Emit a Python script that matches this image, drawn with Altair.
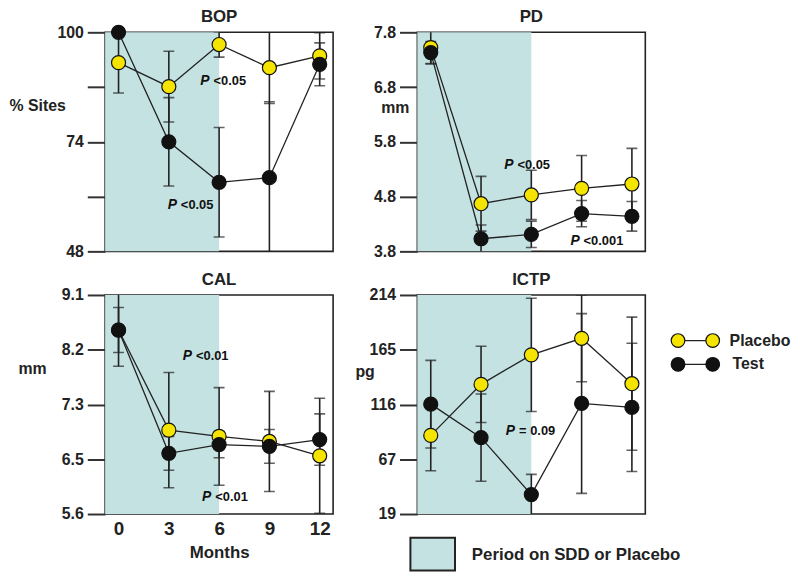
import altair as alt
import pandas as pd

# ---------------- data ----------------
months = [0, 3, 6, 9, 12]
groups = ["Placebo", "Test"]

bop_placebo = [92.8, 87.1, 97.1, 91.6, 94.4]
bop_placebo_err = [7.2, 8.4, 3.0, 8.5, 5.5]
bop_test = [100.0, 74.0, 64.4, 65.5, 92.4]
bop_test_err = [0.0, 10.5, 13.0, 18.0, 5.1]

pd_placebo = [7.52, 4.67, 4.83, 4.95, 5.03]
pd_placebo_err = [0.30, 0.50, 0.45, 0.60, 0.65]
pd_test = [7.43, 4.03, 4.11, 4.49, 4.44]
pd_test_err = [0.20, 0.25, 0.24, 0.24, 0.27]

cal_placebo = [8.54, 6.94, 6.84, 6.76, 6.53]
cal_placebo_err = [0.36, 0.92, 0.78, 0.80, 0.92]
cal_test = [8.54, 6.57, 6.71, 6.68, 6.79]
cal_test_err = [0.58, 0.27, 0.21, 0.27, 0.41]

ictp_placebo = [89.0, 134.4, 160.7, 175.4, 135.0]
ictp_placebo_err = [31.5, 34.0, 50.4, 38.7, 59.3]
ictp_test = [116.8, 87.0, 36.3, 117.4, 113.9]
ictp_test_err = [39.0, 38.8, 18.0, 80.0, 57.1]

bop_ticks = [48, 61, 74, 87, 100]
bop_tick_labels = ["48", "", "74", "", "100"]
pd_ticks = [3.8, 4.8, 5.8, 6.8, 7.8]
pd_tick_labels = ["3.8", "4.8", "5.8", "6.8", "7.8"]
cal_ticks = [5.6, 6.475, 7.35, 8.225, 9.1]
cal_tick_labels = ["5.6", "6.5", "7.3", "8.2", "9.1"]
ictp_ticks = [19, 67.75, 116.5, 165.25, 214]
ictp_tick_labels = ["19", "67", "116", "165", "214"]

period_start = -0.8
period_end = 6
month_domain = [-0.8, 12.8]

# p-value annotations: (month, value, text)
bop_notes = [(5.55, 88.5, "<0.05"), (3.6, 59.0, "<0.05")]
pd_notes = [(5.05, 5.38, "<0.05"), (9.0, 3.98, "<0.001")]
cal_notes = [(4.5, 8.12, "<0.01"), (5.65, 5.87, "<0.01")]
ictp_notes = [(5.15, 93.0, "= 0.09")]

legend_labels = ["Placebo", "Test"]

YELLOW = "#f5e400"
BLACK = "#111111"
SHADE = "#c4e2e2"
FONT = "Liberation Sans"

W, H = 230, 221


def panel(title, ytitle, tx, ty, domain, ticks, labels,
          p_vals, p_err, t_vals, t_err, notes, show_x=False, extra=None):
    rows = []
    for g, vals, errs in (("Placebo", p_vals, p_err), ("Test", t_vals, t_err)):
        for m, v, e in zip(months, vals, errs):
            rows.append({"month": m, "group": g, "value": v,
                         "lo": v - e, "hi": v + e})
    df = pd.DataFrame(rows)

    label_expr = " : ".join(
        [f"datum.value == {v} ? '{l}'" for v, l in zip(ticks, labels)]) + " : ''"

    if show_x:
        xaxis = alt.Axis(values=months, labels=True, ticks=False, domain=False,
                         grid=False, title="Months", labelFontSize=19,
                         labelFont=FONT, labelFontWeight="bold", labelPadding=6,
                         labelColor="#222", titleFontSize=17, titleFont=FONT,
                         titleFontWeight="bold", titlePadding=6, titleColor="#222")
    else:
        xaxis = None
    xs = alt.Scale(domain=month_domain, nice=False, zero=False)
    ys = alt.Scale(domain=domain, nice=False, zero=False)

    x = alt.X("month:Q", scale=xs, axis=xaxis)
    yaxis = alt.Axis(values=ticks, labelExpr=label_expr, title=ytitle,
                     titleAngle=0, titleX=tx, titleY=ty, titleAlign="left",
                     titleBaseline="middle", titleFontSize=16, titleFont=FONT,
                     titleFontWeight="bold", titleColor="#222",
                     grid=False, domain=False, ticks=True, tickSize=18,
                     tickWidth=2, tickColor="#333", labelFontSize=16,
                     labelFont=FONT, labelFontWeight="bold", labelColor="#222",
                     labelPadding=4)

    base = alt.Chart(df)
    shade = alt.Chart(pd.DataFrame({"s": [period_start], "e": [period_end]})).mark_rect(
        color=SHADE).encode(
        x=alt.X("s:Q", scale=xs, axis=xaxis), x2="e:Q",
        y=alt.value(0), y2=alt.value(H))

    color_scale = alt.Scale(domain=groups, range=[YELLOW, BLACK])
    lines = base.mark_line(color="#222", strokeWidth=1.3).encode(
        x=x, y=alt.Y("value:Q", scale=ys, axis=yaxis), detail="group:N")
    bars = base.mark_rule(color="#222", strokeWidth=1.6, clip=True).encode(
        x=x, y=alt.Y("lo:Q", scale=ys), y2="hi:Q")
    cap_lo = base.mark_tick(orient="horizontal", color="#222", size=11,
                            thickness=1.6, clip=True).encode(
        x=x, y=alt.Y("lo:Q", scale=ys))
    cap_hi = base.mark_tick(orient="horizontal", color="#222", size=11,
                            thickness=1.6, clip=True).encode(
        x=x, y=alt.Y("hi:Q", scale=ys))
    pts = base.mark_point(filled=True, size=200, stroke="#111",
                          strokeWidth=1.2, opacity=1).encode(
        x=x, y=alt.Y("value:Q", scale=ys),
        fill=alt.Fill("group:N", scale=color_scale, legend=None),
        order=alt.Order("group:N"))

    ndf = pd.DataFrame({"month": [n[0] for n in notes],
                        "value": [n[1] for n in notes],
                        "txt": [n[2] for n in notes]})
    pt = alt.Chart(ndf).mark_text(text="P", font=FONT, fontWeight="bold",
                                  fontStyle="italic", fontSize=14, align="right",
                                  baseline="middle", color="#111", dx=-2).encode(
        x=alt.X("month:Q", scale=xs), y=alt.Y("value:Q", scale=ys))
    rest = alt.Chart(ndf).mark_text(font=FONT, fontWeight="bold", fontSize=13,
                                    align="left", baseline="middle",
                                    color="#111", dx=2).encode(
        x=alt.X("month:Q", scale=xs), y=alt.Y("value:Q", scale=ys), text="txt:N")

    tdf = pd.DataFrame({"t": [title]})
    ttl = alt.Chart(tdf).mark_text(font=FONT, fontWeight="bold", fontSize=17,
                                   align="center", baseline="middle",
                                   color="#222").encode(
        x=alt.value(W / 2), y=alt.value(-15), text="t:N")

    layers = [shade, lines, bars, cap_lo, cap_hi, pts, pt, rest, ttl]
    if extra:
        layers += extra
    return alt.layer(*layers).properties(width=W, height=H)


# legend decorations drawn beside the ICTP panel
leg_df = pd.DataFrame({"label": legend_labels})
extra = []
for i, (lab, col) in enumerate(zip(legend_labels, [YELLOW, BLACK])):
    one = alt.Chart(leg_df[leg_df.label == lab])
    ly = 46 + i * 24
    extra.append(one.mark_rule(color="#222", strokeWidth=1.3).encode(
        x=alt.value(263), x2=alt.value(298), y=alt.value(ly)))
    extra.append(one.mark_point(filled=True, size=190, fill=col, stroke="#111",
                                strokeWidth=1.2, opacity=1).encode(
        x=alt.value(263), y=alt.value(ly)))
    extra.append(one.mark_point(filled=True, size=190, fill=col, stroke="#111",
                                strokeWidth=1.2, opacity=1).encode(
        x=alt.value(298), y=alt.value(ly)))
    extra.append(one.mark_text(font=FONT, fontWeight="bold", fontSize=16,
                               align="left", baseline="middle",
                               color="#222").encode(
        x=alt.value(315 + 3 * i), y=alt.value(ly), text="label:N"))

box_df = pd.DataFrame({"label": ["Period on SDD or Placebo"]})
extra.append(alt.Chart(box_df).mark_rect(fill=SHADE, stroke="#222",
                                         strokeWidth=2).encode(
    x=alt.value(-7), x2=alt.value(38), y=alt.value(245), y2=alt.value(278)))
extra.append(alt.Chart(box_df).mark_text(font=FONT, fontWeight="bold",
                                         fontSize=17, align="left",
                                         baseline="middle", color="#222").encode(
    x=alt.value(55), y=alt.value(262), text="label:N"))

bop = panel("BOP", "% Sites", -97, 74, [48, 100], bop_ticks, bop_tick_labels,
            bop_placebo, bop_placebo_err, bop_test, bop_test_err, bop_notes)
pdp = panel("PD", "mm", -37, 76, [3.8, 7.8], pd_ticks, pd_tick_labels,
            pd_placebo, pd_placebo_err, pd_test, pd_test_err, pd_notes)
cal = panel("CAL", "mm", -88, 74, [5.6, 9.1], cal_ticks, cal_tick_labels,
            cal_placebo, cal_placebo_err, cal_test, cal_test_err, cal_notes,
            show_x=True)
ictp = panel("ICTP", "pg", -63, 77, [19, 214], ictp_ticks, ictp_tick_labels,
             ictp_placebo, ictp_placebo_err, ictp_test, ictp_test_err,
             ictp_notes, extra=extra)

chart = alt.concat(bop, pdp, cal, ictp, columns=2,
                   spacing={"row": 44, "column": 85}, bounds="flush").properties(
    padding={"top": -3, "left": 0, "right": 0, "bottom": 0}).configure_view(
    stroke="#222", strokeWidth=1.6).resolve_scale(
    x="independent", y="independent")

chart.save("out.html", embed_options={"renderer": "svg", "actions": False})
